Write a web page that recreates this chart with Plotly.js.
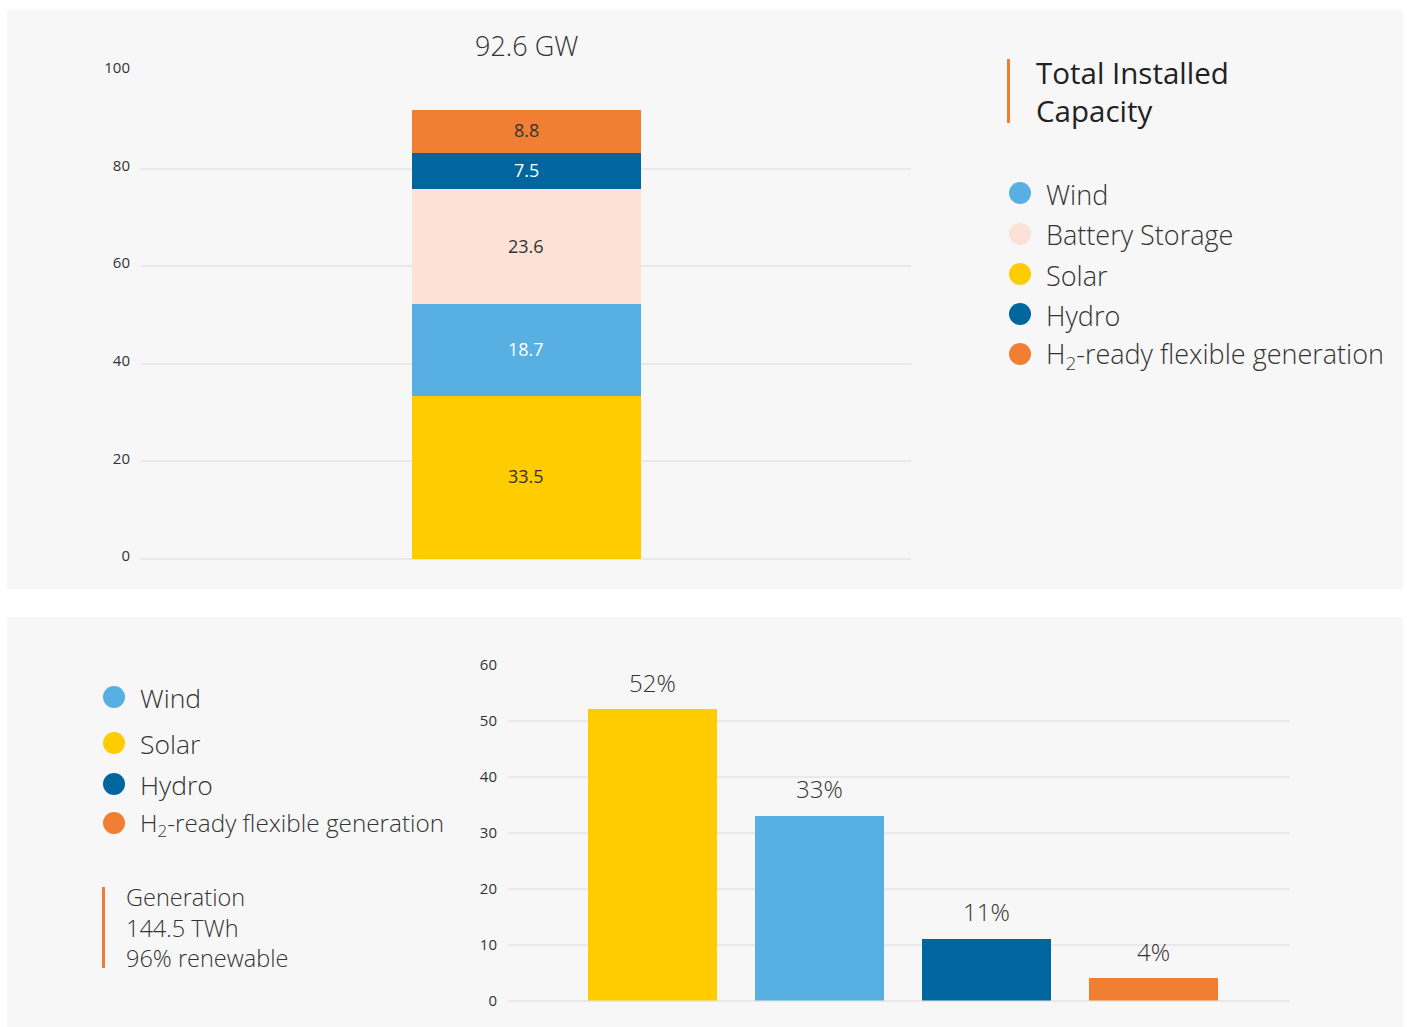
<!DOCTYPE html>
<html>
<head>
<meta charset="utf-8">
<script src="https://cdn.plot.ly/plotly-3.0.1.min.js"></script>
<style>
  html, body { margin: 0; padding: 0; background: #ffffff; }
  #chart { width: 1407px; height: 1027px; }
</style>
</head>
<body>
<div id="chart"></div>
<script>
// ---------- DATA ----------
const capacityTotalLabel = "92.6 GW";
const capacityCategories = ["Solar", "Wind", "Battery Storage", "Hydro", "H2-ready flexible generation"];
const capacityValues = [33.5, 18.7, 23.6, 7.5, 8.8];
const capacityTitle = "Total Installed<br>Capacity";
const capacityLegendOrder = ["Wind", "Battery Storage", "Solar", "Hydro", "H2-ready flexible generation"];
const capacityTicks = [0, 20, 40, 60, 80, 100];

const generationCategories = ["Solar", "Wind", "Hydro", "H2-ready flexible generation"];
const generationShares = [52, 33, 11, 4];
const generationLegendOrder = ["Wind", "Solar", "Hydro", "H2-ready flexible generation"];
const generationNote = "Generation<br>144.5 TWh<br>96% renewable";
const generationTicks = [0, 10, 20, 30, 40, 50, 60];

// ---------- STYLE ----------
const colors = {
  "Solar": "#ffcc00",
  "Wind": "#57afe2",
  "Battery Storage": "#fce1d7",
  "Hydro": "#00679e",
  "H2-ready flexible generation": "#f07f33"
};
const insideTextColors = {
  "Solar": "#333333",
  "Wind": "#ffffff",
  "Battery Storage": "#333333",
  "Hydro": "#ffffff",
  "H2-ready flexible generation": "#333333"
};
const displayName = n => n === "H2-ready flexible generation" ? "H<sub>2</sub>-ready flexible generation" : n;

const W = 1407, H = 1027;
const px = x => x / W;
const py = y => 1 - y / H;
const FONT = "Open Sans, Noto Sans, sans-serif";
const TXT = "#333333";
const GRID = "#e9e9e9";

// ---------- TRACES ----------
const traces = capacityCategories.map((name, i) => ({
  type: "bar",
  x: [0],
  y: [capacityValues[i]],
  width: [1],
  xaxis: "x",
  yaxis: "y",
  name: name,
  marker: { color: colors[name], line: { width: 0 } },
  showlegend: false,
  hoverinfo: "skip"
}));

traces.push({
  type: "bar",
  x: generationCategories,
  y: generationShares,
  width: generationCategories.map(() => 0.772),
  xaxis: "x2",
  yaxis: "y2",
  marker: { color: generationCategories.map(c => colors[c]), line: { width: 0 } },
  showlegend: false,
  hoverinfo: "skip"
});

// ---------- SHAPES ----------
const shapes = [
  { type: "rect", xref: "paper", yref: "paper", x0: px(7), x1: px(1403), y0: py(589), y1: py(10),
    fillcolor: "#f7f7f7", line: { width: 0 }, layer: "below" },
  { type: "rect", xref: "paper", yref: "paper", x0: px(7), x1: px(1403), y0: py(1027), y1: py(617),
    fillcolor: "#f7f7f7", line: { width: 0 }, layer: "below" },
  { type: "rect", xref: "paper", yref: "paper", x0: px(1007), x1: px(1010), y0: py(123), y1: py(59),
    fillcolor: "#f07f33", line: { width: 0 } },
  { type: "rect", xref: "paper", yref: "paper", x0: px(102), x1: px(105), y0: py(968), y1: py(887),
    fillcolor: "#f07f33", line: { width: 0 } }
];

const annotations = [
  { xref: "x", yref: "paper", x: 0, y: py(45), text: capacityTotalLabel, showarrow: false,
    xanchor: "center", yanchor: "middle", font: { family: FONT, size: 27, color: TXT, weight: 300 } },
  { xref: "paper", yref: "paper", x: px(1034), y: py(50), text: capacityTitle, showarrow: false,
    xanchor: "left", yanchor: "top", align: "left", font: { family: FONT, size: 29.5, color: "#222222", weight: 500 } },
  { xref: "paper", yref: "paper", x: px(124), y: py(879), text: generationNote, showarrow: false,
    xanchor: "left", yanchor: "top", align: "left", font: { family: FONT, size: 23.5, color: TXT, weight: 300 } }
];

// value labels inside the stacked bar, placed at segment midpoints
let cum = 0;
capacityCategories.forEach((name, i) => {
  const mid = cum + capacityValues[i] / 2;
  cum += capacityValues[i];
  annotations.push({ xref: "x", yref: "y", x: 0, y: mid, yshift: 1, text: String(capacityValues[i]),
    showarrow: false, xanchor: "center", yanchor: "middle",
    font: { family: FONT, size: 18, color: insideTextColors[name] } });
});

// value labels above the generation bars
generationCategories.forEach((name, i) => {
  annotations.push({ xref: "x2", yref: "y2", x: name, y: generationShares[i], yshift: 27,
    text: generationShares[i] + "%", showarrow: false, xanchor: "center", yanchor: "middle",
    font: { family: FONT, size: 24, color: TXT, weight: 300 } });
});

const topLegendY = [193, 234, 274, 314, 354];
capacityLegendOrder.forEach((name, i) => {
  const cy = topLegendY[i], cx = 1020, r = 11;
  shapes.push({ type: "circle", xref: "paper", yref: "paper", x0: px(cx - r), x1: px(cx + r),
    y0: py(cy + r), y1: py(cy - r), fillcolor: colors[name], line: { width: 0 } });
  annotations.push({ xref: "paper", yref: "paper", x: px(1044), y: py(cy + 1), text: displayName(name),
    showarrow: false, xanchor: "left", yanchor: "middle", font: { family: FONT, size: 27, color: TXT, weight: 300 } });
});

const botLegendY = [697, 743, 784, 823];
generationLegendOrder.forEach((name, i) => {
  const cy = botLegendY[i], cx = 114, r = 11;
  shapes.push({ type: "circle", xref: "paper", yref: "paper", x0: px(cx - r), x1: px(cx + r),
    y0: py(cy + r), y1: py(cy - r), fillcolor: colors[name], line: { width: 0 } });
  annotations.push({ xref: "paper", yref: "paper", x: px(138), y: py(cy + 1), text: displayName(name),
    showarrow: false, xanchor: "left", yanchor: "middle",
    font: { family: FONT, size: name.startsWith("H2") ? 24.3 : 26.5, color: TXT, weight: 300 } });
});

// ---------- LAYOUT ----------
const layout = {
  width: W,
  height: H,
  margin: { l: 0, r: 0, t: 0, b: 0, pad: 0 },
  paper_bgcolor: "#ffffff",
  plot_bgcolor: "rgba(0,0,0,0)",
  barmode: "stack",
  showlegend: false,
  hovermode: false,
  font: { family: FONT, color: TXT },
  xaxis: {
    domain: [px(141), px(911)],
    range: [-1.683, 1.679],
    showgrid: false, showticklabels: false, zeroline: false, showline: false, ticks: "",
    fixedrange: true
  },
  yaxis: {
    domain: [py(559), py(71)],
    range: [0, 100],
    tickvals: capacityTicks,
    ticks: "",
    ticklabelstandoff: 10,
    ticklabelshift: -3,
    showgrid: true, gridcolor: GRID, gridwidth: 2,
    zeroline: true, zerolinecolor: GRID, zerolinewidth: 2,
    showline: false,
    tickfont: { family: FONT, size: 15, color: TXT },
    fixedrange: true
  },
  xaxis2: {
    domain: [px(509), px(1290)],
    range: [-0.86, 3.82],
    type: "category",
    anchor: "y2",
    showgrid: false, showticklabels: false, zeroline: false, showline: false, ticks: "",
    fixedrange: true
  },
  yaxis2: {
    domain: [py(1000.5), py(664.5)],
    range: [0, 60],
    anchor: "x2",
    tickvals: generationTicks,
    ticks: "",
    ticklabelstandoff: 11,
    showgrid: true, gridcolor: GRID, gridwidth: 2,
    zeroline: true, zerolinecolor: GRID, zerolinewidth: 2,
    showline: false,
    tickfont: { family: FONT, size: 15, color: TXT },
    fixedrange: true
  },
  shapes: shapes,
  annotations: annotations
};

Plotly.newPlot("chart", traces, layout, { staticPlot: true, displayModeBar: false });
</script>
</body>
</html>
